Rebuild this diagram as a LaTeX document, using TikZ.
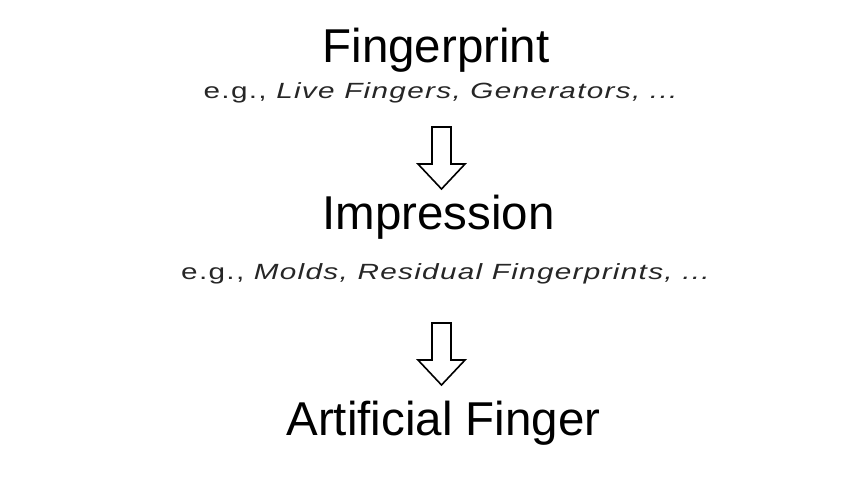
\documentclass[tikz,border=0pt]{standalone}
\usepackage{fontspec}
\newfontfamily\titlef{Liberation Sans}
\newfontfamily\subf[FakeStretch=1.35,LetterSpace=6]{Liberation Sans}
\begin{document}
\begin{tikzpicture}[x=1pt,y=-1pt,
  title/.style={anchor=base,inner sep=0pt,font=\titlef\fontsize{47.5}{50}\selectfont},
  subtitle/.style={anchor=base,inner sep=0pt,text=black!85,font=\subf\fontsize{22}{24}\selectfont},
  blockarrow/.style={draw=black,fill=white,line width=1.6pt,line join=miter}]
\useasboundingbox (0,0) rectangle (857,501);
\node[title] (fp) at (436,62) {Fingerprint};
\node[subtitle] (fpe) at (440.5,98) {e.g., \itshape Live Fingers, Generators, ...};
\coordinate (a1) at (441.5,127);
\node[title] (imp) at (438.5,229) {Impression};
\node[subtitle] (impe) at (445.5,279) {e.g., \itshape Molds, Residual Fingerprints, ...};
\coordinate (a2) at (441.5,323);
\node[title] (af) at (443.5,435) {Artificial Finger};
\foreach \a in {a1,a2}{
  \draw[blockarrow] (\a) ++(-9.5,0) -- ++(19,0) -- ++(0,37) -- ++(14,0)
    -- ++(-23.5,25) -- ++(-23.5,-25) -- ++(14,0) -- cycle;
}
\end{tikzpicture}
\end{document}
